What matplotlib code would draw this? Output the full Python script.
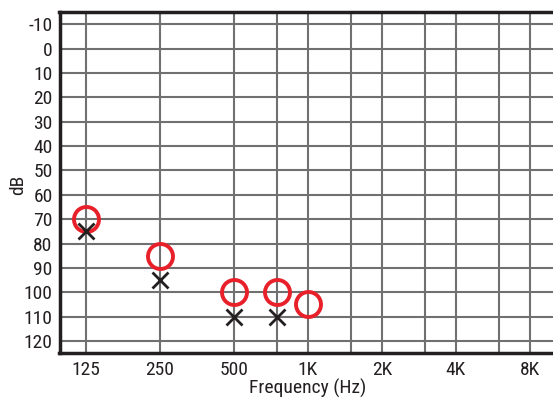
import matplotlib
matplotlib.use("Agg")
import matplotlib.pyplot as plt
from matplotlib import font_manager as fm
import numpy as np

# pick a condensed font if one is installed
font_kw = {"family": "DejaVu Sans"}
for cand in [{"family": "Roboto Condensed"}, {"family": "Open Sans Condensed"},
             {"family": "Liberation Sans Narrow"},
             {"family": "DejaVu Sans", "stretch": "condensed"}]:
    try:
        path = fm.findfont(fm.FontProperties(**cand), fallback_to_default=False)
        if "ondensed" in path or "Narrow" in path:
            font_kw = cand
            break
    except Exception:
        pass

# Data
grid_freqs = [125, 250, 500, 750, 1000, 1500, 2000, 3000, 4000, 6000, 8000]
tick_freqs = [125, 250, 500, 1000, 2000, 4000, 8000]
tick_labels = ["125", "250", "500", "1K", "2K", "4K", "8K"]
db_ticks = [-10, 0, 10, 20, 30, 40, 50, 60, 70, 80, 90, 100, 110, 120]

right_freqs = [125, 250, 500, 750, 1000]
right_db = [70, 85, 100, 100, 105]
left_freqs = [125, 250, 500, 750]
left_db = [75, 95, 110, 110]

fig = plt.figure(figsize=(5.53, 3.98), dpi=100)
ax = fig.add_axes([59.5/553, 1 - 352.7/398, 1 - 59.5/553, (352.7 - 12)/398])
ax.set_xscale("log")
ax.set_xlim(97.7, 9925)
ax.set_ylim(124.8, -15.05)

for f in grid_freqs:
    ax.axvline(f, color="#707070", lw=1.5, zorder=1)
for d in db_ticks:
    ax.axhline(d, color="#707070", lw=1.5, zorder=1)

ax.plot(right_freqs, right_db, linestyle="none", marker="o", ms=18,
        mfc="none", mec="#e8202a", mew=2.8, zorder=3)
ax.plot(left_freqs, left_db, linestyle="none", marker="x", ms=11,
        mec="#231f20", mew=2.0, zorder=3)

ax.set_xticks(tick_freqs)
ax.set_xticklabels(tick_labels)
ax.xaxis.set_minor_locator(matplotlib.ticker.NullLocator())
ax.set_yticks(db_ticks)
ax.set_yticklabels([str(d) for d in db_ticks])
ax.tick_params(length=0, colors="#231f20")
ax.tick_params(axis="x", pad=6)
ax.tick_params(axis="y", pad=5)
for lab in ax.get_xticklabels() + ax.get_yticklabels():
    lab.set_fontproperties(fm.FontProperties(size=14, **font_kw))

for s in ["left", "bottom", "top"]:
    ax.spines[s].set_linewidth(2.5)
    ax.spines[s].set_color("#231f20")
ax.spines["right"].set_visible(False)

fig.text(18/553, 1 - 185/398, "dB", rotation=90, ha="center", va="center",
         fontproperties=fm.FontProperties(size=14, **font_kw), color="#231f20")
fig.text(308/553, 0.5/398, "Frequency (Hz)", ha="center", va="bottom",
         fontproperties=fm.FontProperties(size=14, **font_kw), color="#231f20")

fig.savefig("out.png", dpi=100)
